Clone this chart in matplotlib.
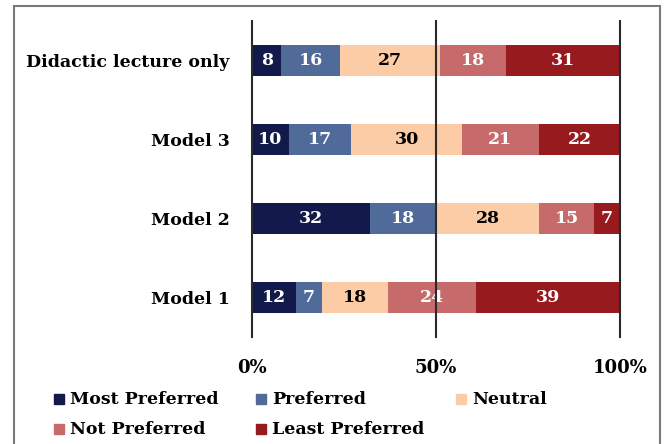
import numpy as np
import matplotlib.pyplot as plt
from matplotlib.patches import Rectangle

categories = ['Model 1', 'Model 2', 'Model 3', 'Didactic lecture only']
series = ['Most Preferred', 'Preferred', 'Neutral', 'Not Preferred', 'Least Preferred']
most_pref = [12, 32, 10, 8]
pref = [7, 18, 17, 16]
neutral = [18, 28, 30, 27]
not_pref = [24, 15, 21, 18]
least_pref = [39, 7, 22, 31]

colors = ['#111a4b', '#506a9a', '#fbcca6', '#c76a6b', '#971a1e']
text_colors = ['white', 'white', 'black', 'white', 'white']

plt.rcParams['font.family'] = ['DejaVu Serif']
plt.rcParams['font.weight'] = 'bold'

W, H = 667, 444
fig = plt.figure(figsize=(W/100, H/100), dpi=100)
ax = fig.add_axes([252/W, 1-337/H, 368/W, (337-21)/H])

data = [most_pref, pref, neutral, not_pref, least_pref]
y = np.arange(len(categories))
left = np.zeros(len(categories))
for vals, c, tc, name in zip(data, colors, text_colors, series):
    vals = np.array(vals)
    ax.barh(y, vals, left=left, height=0.39, color=c, label=name, zorder=2)
    for yi, l, v in zip(y, left, vals):
        ax.text(l + v/2, yi, str(v), ha='center', va='center', color=tc,
                fontsize=12.5, fontweight='bold', zorder=3)
    left += vals

for xv in [0, 50, 100]:
    ax.axvline(xv, color='#2a2a2a', lw=1.5, zorder=4, clip_on=False)

ax.set_xlim(0, 100)
ax.set_ylim(-0.5, 3.5)
ax.set_yticks(y)
ax.set_yticklabels(categories, fontsize=12.5, fontweight='bold')
ax.set_xticks([0, 50, 100])
ax.set_xticklabels(['0%', '50%', '100%'], fontsize=13, fontweight='bold')
ax.tick_params(axis='y', length=0, pad=16)
ax.tick_params(axis='x', length=0, pad=16)
for s in ax.spines.values():
    s.set_visible(False)

# legend laid out like the original (row-wise, 3 columns)
leg_x = [70, 272, 472]
leg_y = [399, 429]
for i, (name, c) in enumerate(zip(series, colors)):
    tx = leg_x[i % 3]
    ty = leg_y[i // 3]
    fig.patches.append(Rectangle(((tx-16)/W, 1-(ty+5)/H), 10/W, 10/H,
                                 transform=fig.transFigure, color=c))
    fig.text(tx/W, 1-ty/H, name, ha='left', va='center', fontsize=12.5,
             fontweight='bold')

fig.patches.append(Rectangle((14/W, -0.1), (660-14)/W, 1.1-6/H,
                             transform=fig.transFigure, fill=False,
                             edgecolor='#7a7a7a', lw=1.5))

fig.savefig('out.png', dpi=100)
